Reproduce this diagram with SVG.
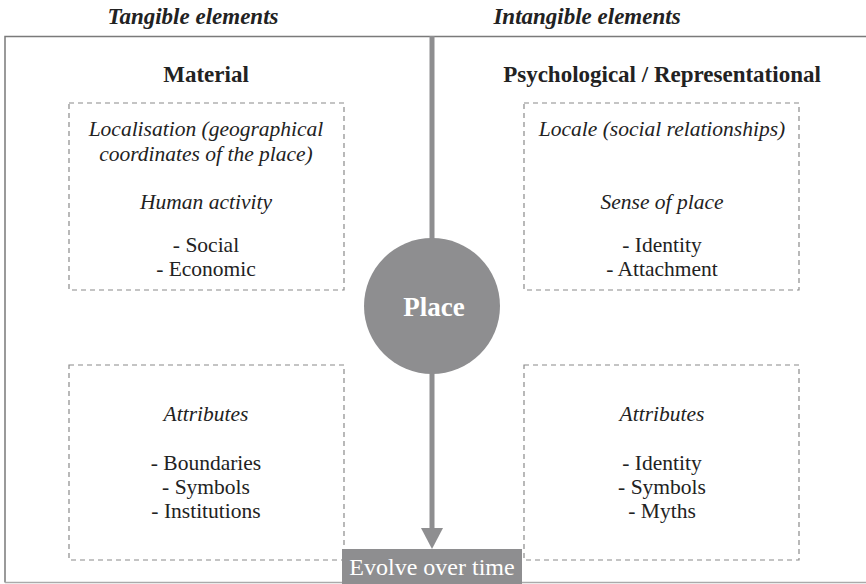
<svg xmlns="http://www.w3.org/2000/svg" width="866" height="584" viewBox="0 0 866 584">
<style>
text{font-family:'Liberation Serif','Times New Roman','DejaVu Serif',serif;font-size:21.5px;fill:#222;text-anchor:middle}
.i{font-style:italic}
.b{font-weight:bold;font-size:23px}
.h{font-size:23px}
.box{fill:none;stroke:#8a8a8a;stroke-width:1.2;stroke-dasharray:5,4}
.w{fill:#fff}
</style>
<rect x="0" y="0" width="866" height="584" fill="#fff"/>
<g id="frame">
<path d="M5,582.5V36.5H866" fill="none" stroke="#7a7a7a" stroke-width="1.5"/>
<path d="M5,582.5H866" fill="none" stroke="#aaa" stroke-width="1.5"/>
</g>
<g id="headers">
<text class="i b h" x="193" y="24">Tangible elements</text>
<text class="i b h" x="587" y="24">Intangible elements</text>
<text class="b" x="206" y="82">Material</text>
<text class="b" x="662" y="82">Psychological / Representational</text>
</g>
<g id="connectors">
<line x1="432" y1="36" x2="432" y2="240" stroke="#8e8e90" stroke-width="5"/>
<line x1="432" y1="370" x2="432" y2="530" stroke="#8e8e90" stroke-width="5"/>
<path d="M421,528L443,528L432,549z" fill="#8e8e90"/>
</g>
<g id="place">
<circle cx="432" cy="306" r="68" fill="#8e8e90"/>
<text class="b w" x="434" y="316" style="font-size:27px">Place</text>
</g>
<g id="material-top">
<rect class="box" x="69" y="103" width="275" height="187"/>
<text class="i" x="206" y="136">Localisation (geographical</text>
<text class="i" x="206" y="161">coordinates of the place)</text>
<text class="i" x="206" y="209">Human activity</text>
<text x="206" y="252">- Social</text>
<text x="206" y="276">- Economic</text>
</g>
<g id="material-bottom">
<rect class="box" x="69" y="365" width="275" height="195"/>
<text class="i" x="206" y="421">Attributes</text>
<text x="206" y="470">- Boundaries</text>
<text x="206" y="494">- Symbols</text>
<text x="206" y="518">- Institutions</text>
</g>
<g id="psych-top">
<rect class="box" x="524" y="103" width="275" height="187"/>
<text class="i" x="662" y="136">Locale (social relationships)</text>
<text class="i" x="662" y="209">Sense of place</text>
<text x="662" y="252">- Identity</text>
<text x="662" y="276">- Attachment</text>
</g>
<g id="psych-bottom">
<rect class="box" x="524" y="365" width="275" height="195"/>
<text class="i" x="662" y="421">Attributes</text>
<text x="662" y="470">- Identity</text>
<text x="662" y="494">- Symbols</text>
<text x="662" y="518">- Myths</text>
</g>
<g id="evolve">
<rect x="342" y="549" width="180" height="35" fill="#8e8e90"/>
<text class="w" x="432" y="575" style="font-size:24px">Evolve over time</text>
</g>
</svg>
